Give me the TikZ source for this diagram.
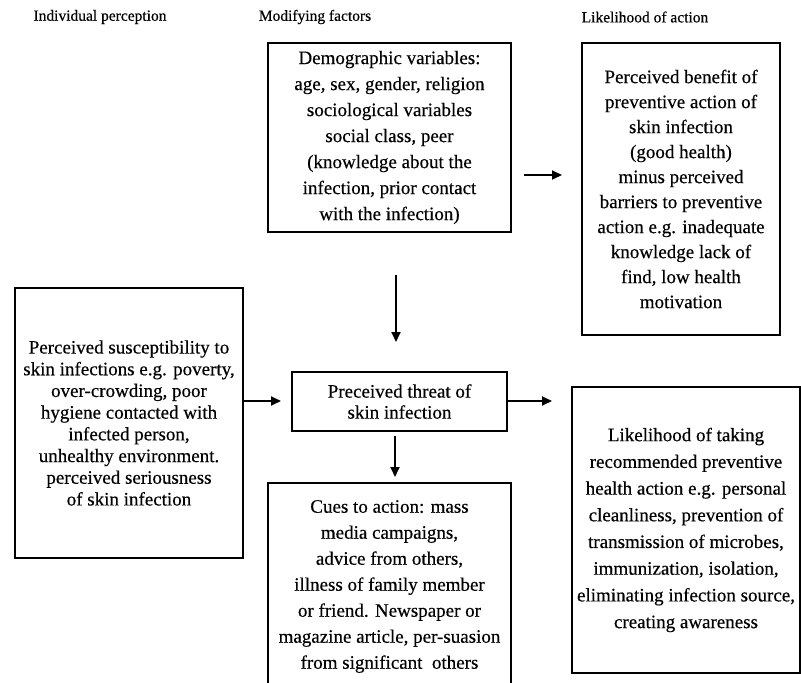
\documentclass[tikz,border=0pt]{standalone}
\usepackage{fontspec}
\setmainfont{Liberation Serif}[FakeBold=0.4]
\usetikzlibrary{arrows.meta}
\begin{document}
\begin{tikzpicture}[x=1pt,y=-1pt,
  box/.style={draw, line width=2pt, inner sep=0pt, align=center},
  arr/.style={line width=1.8pt, -{Triangle[length=10pt,width=9pt]}},
  hdr/.style={font=\fontsize{15.5}{18}\selectfont}]
\useasboundingbox (0,0) rectangle (801,683);
\node[hdr] (h1) at (100,17) {Individual perception};
\node[hdr] (h2) at (315,17) {Modifying factors};
\node[hdr] (h3) at (645,17) {Likelihood of action};

\node[box, minimum width=243pt, minimum height=189pt, font=\fontsize{19}{26}\selectfont] (demo) at (389.5,137.5)
  {Demographic variables:\\ age, sex, gender, religion\\ sociological variables\\ social class, peer\\ (knowledge about the\\ infection, prior contact\\ with the infection)};

\node[box, minimum width=198pt, minimum height=292pt, font=\fontsize{19}{25}\selectfont] (ben) at (681,189)
  {Perceived benefit of\\ preventive action of\\ skin infection\\ (good health)\\ minus perceived\\ barriers to preventive\\ action e.g. inadequate\\ knowledge lack of\\ find, low health\\ motivation};

\node[box, minimum width=228pt, minimum height=270pt, font=\fontsize{19}{21.7}\selectfont] (left) at (129,423)
  {Perceived susceptibility to\\ skin infections e.g. poverty,\\ over-crowding, poor\\ hygiene contacted with\\ infected person,\\ unhealthy environment.\\ perceived seriousness\\ of skin infection};

\node[box, minimum width=215pt, minimum height=59pt, font=\fontsize{19}{21}\selectfont] (threat) at (399.5,401.5)
  {Preceived threat of\\ skin infection};

\node[box, minimum width=228pt, minimum height=286pt, font=\fontsize{19}{26.7}\selectfont] (lik) at (686,530)
  {Likelihood of taking\\ recommended preventive\\ health action e.g. personal\\ cleanliness, prevention of\\ transmission of microbes,\\ immunization, isolation,\\ eliminating infection source,\\ creating awareness};

\node[box, minimum width=243pt, minimum height=207pt, font=\fontsize{19}{26}\selectfont] (cues) at (389.5,586.5)
  {Cues to action: mass\\ media campaigns,\\ advice from others,\\ illness of family member\\ or friend. Newspaper or\\ magazine article, per-suasion\\ from significant\ \ others};

\draw[arr, shorten <=12pt, shorten >=19pt] (demo.east |- 0,175) -- (ben.west |- 0,175);
\draw[arr, shorten <=42pt, shorten >=29pt] (demo.south -| 396,0) -- (threat.north -| 396,0);
\draw[arr, shorten >=10pt] (left.east |- 0,401) -- (threat.west |- 0,401);
\draw[arr, shorten >=19pt] (threat.east |- 0,401) -- (lik.west |- 0,401);
\draw[arr, shorten <=4pt, shorten >=5pt] (threat.south -| 395,0) -- (cues.north -| 395,0);
\end{tikzpicture}
\end{document}
